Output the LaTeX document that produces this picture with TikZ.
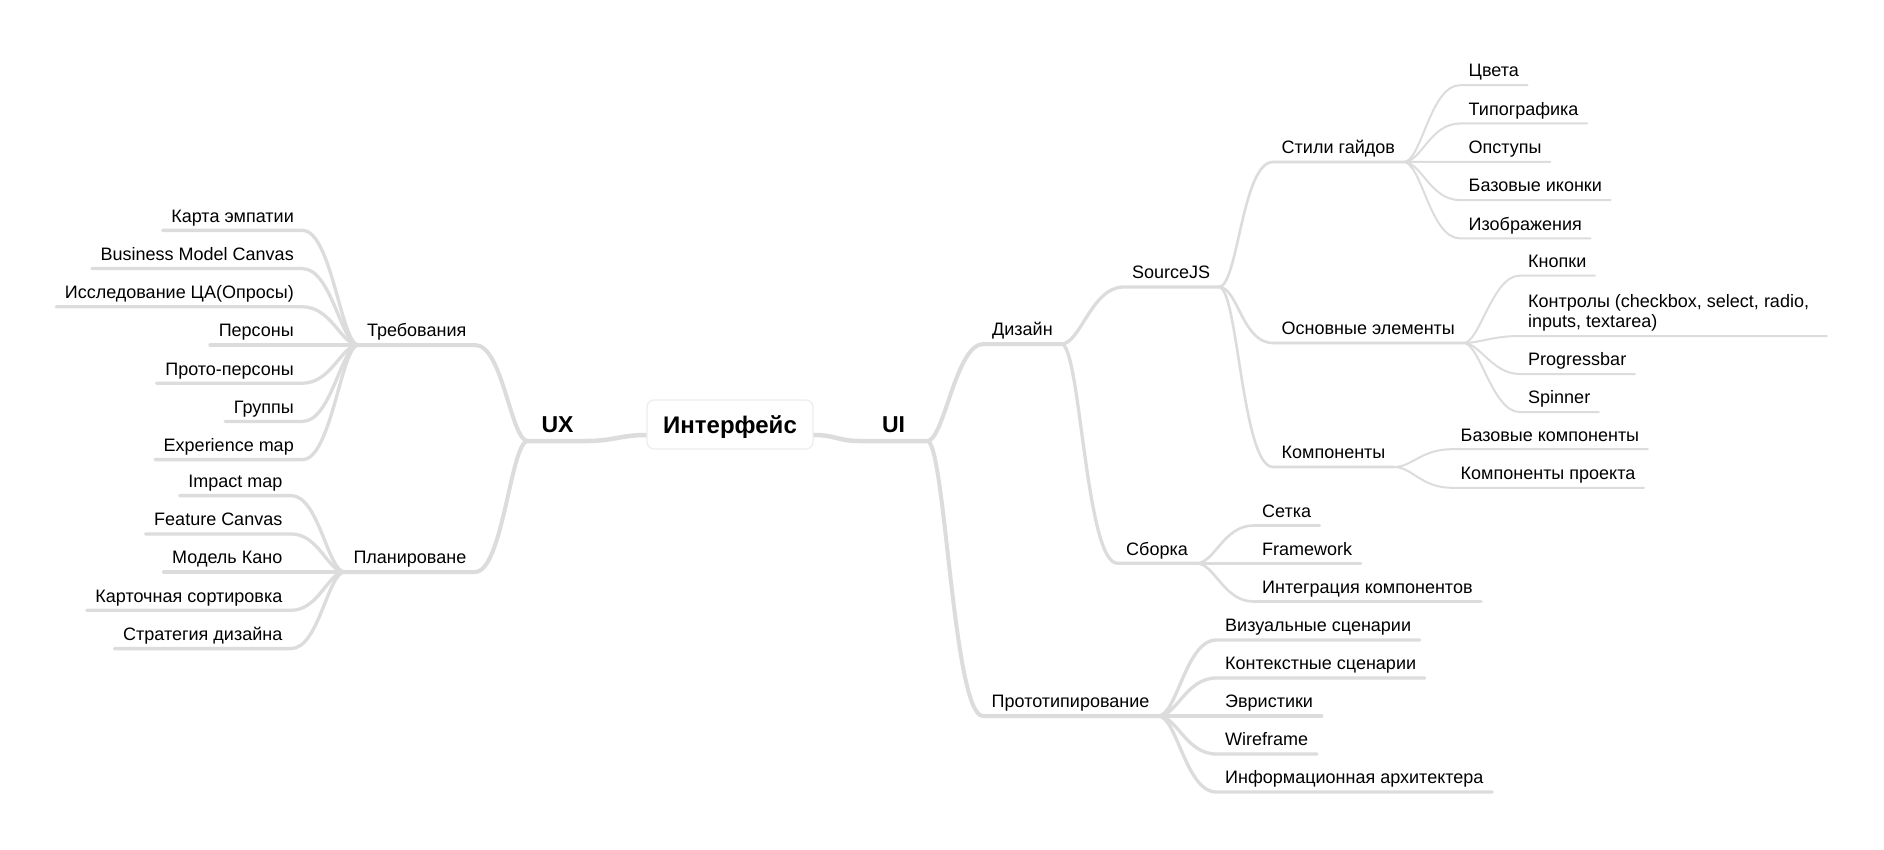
\documentclass[tikz,border=0pt]{standalone}
\usepackage{fontspec}
\setmainfont{Liberation Sans}
\definecolor{br}{HTML}{DCDCDC}
\definecolor{rb}{HTML}{EDEDED}
\tikzset{
  topic/.style={font=\fontsize{18}{21.6}\selectfont, inner xsep=8.5pt, inner ysep=8pt, text height=13pt, text depth=0pt},
  mainT/.style={font=\bfseries\fontsize{23}{27}\selectfont, inner xsep=0pt, inner ysep=8pt, text height=16pt, text depth=0pt},
  rootbox/.style={draw=rb, line width=1.2pt, fill=white, rounded corners=7pt, minimum width=166pt, minimum height=49pt, inner sep=0pt, font=\bfseries\fontsize{24}{28}\selectfont, text height=17pt, text depth=0pt},
  ln/.style={draw=br, line cap=round, line join=round},
  l1/.style={ln, line width=4.5pt},
  l2/.style={ln, line width=4pt},
  l3/.style={ln, line width=3.3pt},
  l4/.style={ln, line width=2.6pt},
  l5/.style={ln, line width=2pt},
}
\newcommand\lkR[5]{\draw[#1] (#2) .. controls +(#3,0) and +(#4,0) .. (#5.south west) -- (#5.south east);}
\newcommand\lkL[5]{\draw[#1] (#2) .. controls +(#3,0) and +(#4,0) .. (#5.south east) -- (#5.south west);}
\begin{document}
\begin{tikzpicture}[x=1pt, y=-1pt]
\useasboundingbox[fill=white] (0,0) rectangle (1884,850);

% root and level 1
\node[rootbox] (root) at (730,424.5) {Интерфейс};
\coordinate (rootL) at ([yshift=-10.5pt]root.west);
\coordinate (rootR) at ([yshift=-10.5pt]root.east);
\node[mainT, anchor=south, minimum width=59pt] (ux) at (557.5,441) {UX};
\node[mainT, anchor=south, minimum width=67pt] (ui) at (893.5,441) {UI};

% left level 2
\node[topic, anchor=south east] (treb) at (475,345) {Требования};
\node[topic, anchor=south east] (plan) at (475,572) {Планироване};

% left leaves (Требования)
\node[topic, anchor=south east] (karta) at (302.5,230.4) {Карта эмпатии};
\node[topic, anchor=south east] (bmc) at (302.5,268.6) {Business Model Canvas};
\node[topic, anchor=south east] (issl) at (302.5,306.8) {Исследование ЦА(Опросы)};
\node[topic, anchor=south east] (pers) at (302.5,345) {Персоны};
\node[topic, anchor=south east] (proto) at (302.5,383.2) {Прото-персоны};
\node[topic, anchor=south east] (grp) at (302.5,421.4) {Группы};
\node[topic, anchor=south east] (expm) at (302.5,459.6) {Experience map};

% left leaves (Планироване)
\node[topic, anchor=south east] (imp) at (291,495.6) {Impact map};
\node[topic, anchor=south east] (feat) at (291,533.9) {Feature Canvas};
\node[topic, anchor=south east] (kano) at (291,572) {Модель Кано};
\node[topic, anchor=south east] (kart) at (291,610.3) {Карточная сортировка};
\node[topic, anchor=south east] (strat) at (291,648.6) {Стратегия дизайна};

% right level 2
\node[topic, anchor=south west] (diz) at (983.5,344) {Дизайн};
\node[topic, anchor=south west] (prot) at (983,716) {Прототипирование};

% level 3
\node[topic, anchor=south west] (src) at (1123.5,287) {SourceJS};
\node[topic, anchor=south west] (sbor) at (1117.5,563.3) {Сборка};

% level 4
\node[topic, anchor=south west] (stil) at (1273,162) {Стили гайдов};
\node[topic, anchor=south west] (osn) at (1273,343) {Основные элементы};
\node[topic, anchor=south west] (komp) at (1273,467) {Компоненты};

% Стили гайдов leaves
\node[topic, anchor=south west] (cvet) at (1460,85.2) {Цвета};
\node[topic, anchor=south west] (tipo) at (1460,123.5) {Типографика};
\node[topic, anchor=south west] (otst) at (1460,161.8) {Опступы};
\node[topic, anchor=south west] (ikon) at (1460,200.1) {Базовые иконки};
\node[topic, anchor=south west] (izob) at (1460,238.4) {Изображения};

% Основные элементы leaves
\node[topic, anchor=south west] (knop) at (1519.5,275.7) {Кнопки};
\node[topic, anchor=south west] (kontr) at (1519.5,336) {\parbox[b]{290pt}{\raggedright\setlength{\baselineskip}{20.5pt}Контролы (checkbox, select, radio,\\inputs, textarea)}};
\node[topic, anchor=south west] (prog) at (1519.5,374) {Progressbar};
\node[topic, anchor=south west] (spin) at (1519.5,412) {Spinner};

% Компоненты leaves
\node[topic, anchor=south west] (bkomp) at (1452,449.2) {Базовые компоненты};
\node[topic, anchor=south west] (pkomp) at (1452,487.8) {Компоненты проекта};

% Сборка leaves
\node[topic, anchor=south west] (setk) at (1253.5,525.5) {Сетка};
\node[topic, anchor=south west] (frmw) at (1253.5,563.3) {Framework};
\node[topic, anchor=south west] (integ) at (1253.5,601.5) {Интеграция компонентов};

% Прототипирование leaves
\node[topic, anchor=south west] (vis) at (1216.5,640) {Визуальные сценарии};
\node[topic, anchor=south west] (kont) at (1216.5,678) {Контекстные сценарии};
\node[topic, anchor=south west] (evr) at (1216.5,716) {Эвристики};
\node[topic, anchor=south west] (wire) at (1216.5,754) {Wireframe};
\node[topic, anchor=south west] (inf) at (1216.5,792) {Информационная архитектера};

% connectors: root
\draw[l1, line cap=butt] (rootL) .. controls +(-25,0) and +(25,0) .. (ux.south east) -- (ux.south west);
\draw[l1, line cap=butt] (rootR) .. controls +(22,0) and +(-22,0) .. (ui.south west) -- (ui.south east);

% UX branches
\lkL{l2}{ux.south west}{-17}{28}{treb}
\lkL{l2}{ux.south west}{-17}{28}{plan}
\foreach \c in {karta,bmc,issl,pers,proto,grp,expm}{\lkL{l3}{treb.south west}{-17}{29}{\c}}
\foreach \c in {imp,feat,kano,kart,strat}{\lkL{l3}{plan.south west}{-17}{28}{\c}}

% UI branches
\lkR{l2}{ui.south east}{17}{-28}{diz}
\lkR{l2}{ui.south east}{18}{-30}{prot}
\lkR{l3}{diz.south east}{19}{-32}{src}
\lkR{l3}{diz.south east}{19}{-32}{sbor}
\foreach \c in {stil,osn,komp}{\lkR{l4}{src.south east}{19}{-31}{\c}}
\foreach \c in {cvet,tipo,otst,ikon,izob}{\lkR{l5}{stil.south east}{18}{-30}{\c}}
\foreach \c in {knop,kontr,prog,spin}{\lkR{l5}{osn.south east}{16}{-27}{\c}}
\foreach \c in {bkomp,pkomp}{\lkR{l5}{komp.south east}{18}{-31}{\c}}
\foreach \c in {setk,frmw,integ}{\lkR{l4}{sbor.south east}{18}{-30}{\c}}
\foreach \c in {vis,kont,evr,wire,inf}{\lkR{l3}{prot.south east}{19}{-31}{\c}}
\end{tikzpicture}
\end{document}
